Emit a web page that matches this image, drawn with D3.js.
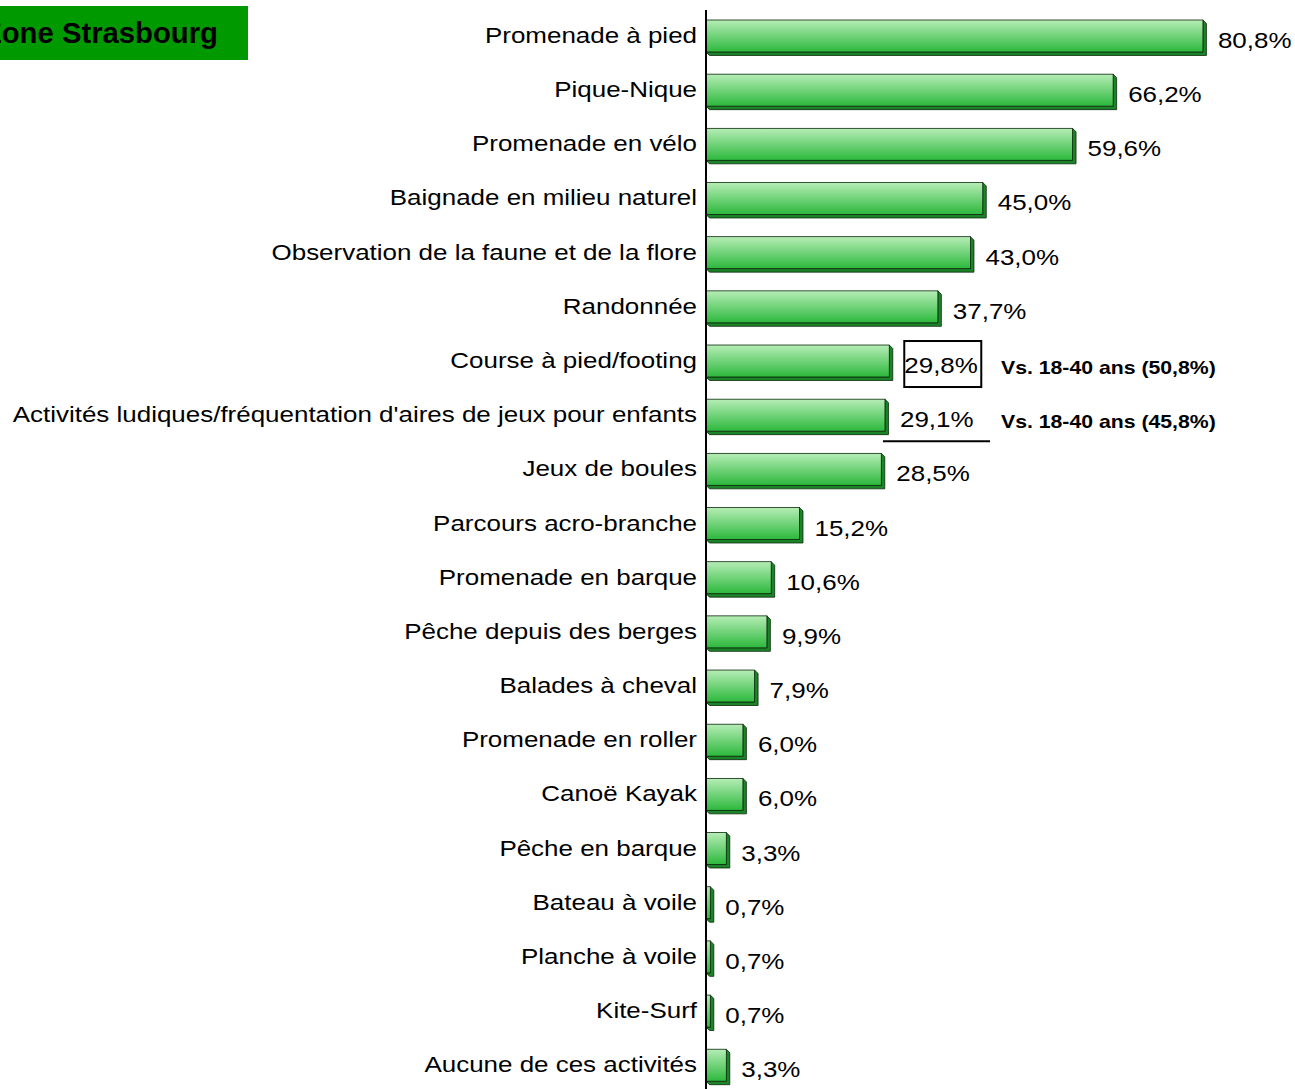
<!DOCTYPE html>
<html>
<head>
<meta charset="utf-8">
<script src="https://cdn.jsdelivr.net/npm/d3@7"></script>
<style>
  body { margin: 0; background: #fff; }
  svg { display: block; font-family: Arial, "Liberation Sans", sans-serif; }
</style>
</head>
<body>
<script>
// data
const categories = [
  "Promenade à pied", "Pique-Nique", "Promenade en vélo", "Baignade en milieu naturel",
  "Observation de la faune et de la flore", "Randonnée", "Course à pied/footing",
  "Activités ludiques/fréquentation d'aires de jeux pour enfants", "Jeux de boules",
  "Parcours acro-branche", "Promenade en barque", "Pêche depuis des berges",
  "Balades à cheval", "Promenade en roller", "Canoë Kayak", "Pêche en barque",
  "Bateau à voile", "Planche à voile", "Kite-Surf", "Aucune de ces activités"
];
const values = [80.8, 66.2, 59.6, 45.0, 43.0, 37.7, 29.8, 29.1, 28.5, 15.2,
                10.6, 9.9, 7.9, 6.0, 6.0, 3.3, 0.7, 0.7, 0.7, 3.3];
const notes = ["", "", "", "", "", "", "Vs. 18-40 ans (50,8%)", "Vs. 18-40 ans (45,8%)",
               "", "", "", "", "", "", "", "", "", "", "", ""];
const title = "Zone Strasbourg";

const W = 1295, H = 1089;
const axisX = 706;
const sx = 1.18;   // les textes sont un peu étirés en largeur
const fmt = v => v.toFixed(1).replace(".", ",") + "%";

const svg = d3.select("body").append("svg").attr("width", W).attr("height", H);

const defs = svg.append("defs");
const grad = defs.append("linearGradient").attr("id", "barGrad")
  .attr("x1", 0).attr("y1", 0).attr("x2", 0).attr("y2", 1);
grad.append("stop").attr("offset", "0%").attr("stop-color", "#b6edb6");
grad.append("stop").attr("offset", "100%").attr("stop-color", "#2cb83c");

const x = d3.scaleLinear().domain([0, 100]).range([axisX, axisX + 615]);
const step = 54.17, pi = 0.41;
const y = d3.scaleBand().domain(categories)
  .range([20 - step * pi / 2, 20 - step * pi / 2 + step * categories.length])
  .paddingInner(pi).paddingOuter(pi / 2);
const bw = y.bandwidth();
const dep = 3.5;

// titre (coupé à gauche comme dans l'original)
svg.append("rect").attr("x", 0).attr("y", 6).attr("width", 248).attr("height", 54)
  .attr("fill", "#009900");
svg.append("text").attr("transform", "translate(218,43) scale(1.01,1)").attr("text-anchor", "end")
  .attr("font-size", 29).attr("font-weight", "bold").attr("fill", "#000")
  .text(title);

const rows = svg.selectAll("g.row").data(categories).enter().append("g").attr("class", "row");

// ombre 3D
rows.append("path")
  .attr("d", (d, i) => {
    const x0 = x(0), x1 = x(values[i]), t = y(d), b = y(d) + bw;
    return `M${x0},${b} L${x1},${b} L${x1},${t} L${x1 + dep},${t + dep} L${x1 + dep},${b + dep} L${x0 + dep},${b + dep} Z`;
  })
  .attr("fill", "#1c8428").attr("stroke", "#0a2a0a").attr("stroke-width", 0.8)
  .attr("stroke-linejoin", "round");

// face
rows.append("rect")
  .attr("x", x(0))
  .attr("y", d => y(d))
  .attr("width", (d, i) => x(values[i]) - x(0))
  .attr("height", bw)
  .attr("fill", "url(#barGrad)")
  .attr("stroke", "#0a2a0a").attr("stroke-width", 0.8);

// libellés
rows.append("text")
  .attr("transform", d => `translate(697,${y(d) + bw / 2 + 7}) scale(${sx},1)`)
  .attr("text-anchor", "end").attr("font-size", 22).attr("fill", "#000")
  .text(d => d);

// valeurs
rows.append("text")
  .attr("class", "val")
  .attr("transform", (d, i) => `translate(${x(values[i]) + 15},${y(d) + bw / 2 + 12}) scale(${sx},1)`)
  .attr("font-size", 22).attr("fill", "#000")
  .text((d, i) => fmt(values[i]));

// comparaisons
rows.filter((d, i) => notes[i] !== "").append("text")
  .attr("transform", d => `translate(1001,${y(d) + bw / 2 + 13}) scale(${sx},1)`)
  .attr("font-size", 18).attr("font-weight", "bold").attr("fill", "#000")
  .text(d => notes[categories.indexOf(d)]);

// encadré et soulignement
const iBox = 6, iLine = 7;
svg.append("rect")
  .attr("x", x(values[iBox]) + 15).attr("y", y(categories[iBox]) - 4)
  .attr("width", 77).attr("height", 46)
  .attr("fill", "none").attr("stroke", "#000").attr("stroke-width", 2);
svg.append("line")
  .attr("x1", x(values[iLine]) - 2).attr("x2", 990)
  .attr("y1", y(categories[iLine]) + bw + 10).attr("y2", y(categories[iLine]) + bw + 10)
  .attr("stroke", "#000").attr("stroke-width", 2);

// axe
svg.append("line").attr("x1", axisX).attr("x2", axisX).attr("y1", 10).attr("y2", H)
  .attr("stroke", "#000").attr("stroke-width", 2);
</script>
</body>
</html>
